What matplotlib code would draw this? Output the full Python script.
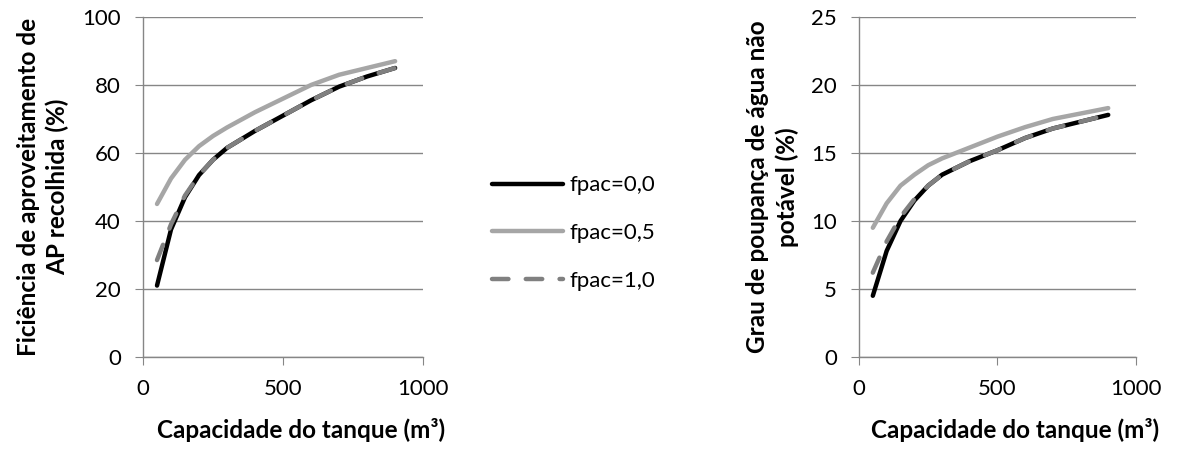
import matplotlib
matplotlib.use("Agg")
import matplotlib.pyplot as plt

plt.rcParams['font.family'] = ['Lato', 'DejaVu Sans']

# capacidade do tanque (m3)
capacidade = [50, 100, 150, 200, 250, 300, 400, 500, 600, 700, 800, 900]

# eficiência de aproveitamento (%)
ef_f00 = [21, 37.5, 47, 53.5, 58, 61.5, 66.5, 71, 75.5, 79.5, 82.5, 85]
ef_f05 = [45, 52.5, 58, 62, 65, 67.5, 72, 76, 80, 83, 85, 87]
ef_f10 = [28.5, 39, 47.5, 53.5, 58, 61.5, 66.5, 71, 75.5, 79.5, 82.5, 85]

# grau de poupança (%)
gp_f00 = [4.5, 7.8, 10.0, 11.5, 12.6, 13.4, 14.4, 15.2, 16.1, 16.8, 17.3, 17.8]
gp_f05 = [9.5, 11.3, 12.6, 13.4, 14.1, 14.6, 15.4, 16.2, 16.9, 17.5, 17.9, 18.3]
gp_f10 = [6.2, 8.5, 10.3, 11.6, 12.6, 13.4, 14.4, 15.2, 16.1, 16.8, 17.3, 17.8]

legendas = ['fpac=0,0', 'fpac=0,5', 'fpac=1,0']
grid_col = '#868686'

fig = plt.figure(figsize=(11.77, 4.5), dpi=100)
ax1 = fig.add_axes([0.1215, 0.2067, 0.238, 0.7556])
ax2 = fig.add_axes([0.7298, 0.2067, 0.2353, 0.7556])


def desenha(ax, ys, ymax, ystep, ylabel):
    l0, = ax.plot(capacidade, ys[0], color='black', lw=3.2, solid_capstyle='round',
                  solid_joinstyle='round', zorder=3)
    l1, = ax.plot(capacidade, ys[1], color='#A6A6A6', lw=3.2, solid_capstyle='round',
                  solid_joinstyle='round', zorder=3)
    l2, = ax.plot(capacidade, ys[2], color='#808080', lw=3.2, dashes=(3.7, 3.9),
                  dash_capstyle='round', zorder=4)
    ax.set_xlim(0, 1000)
    ax.set_ylim(0, ymax)
    ax.set_xticks([0, 500, 1000])
    ax.set_yticks(range(0, ymax + 1, ystep))
    ax.grid(axis='y', color=grid_col, lw=1)
    ax.set_axisbelow(True)
    for s in ['top', 'right']:
        ax.spines[s].set_visible(False)
    for s in ['left', 'bottom']:
        ax.spines[s].set_color(grid_col)
        ax.spines[s].set_linewidth(1)
    ax.tick_params(axis='both', direction='out', length=6, color=grid_col,
                   labelsize=16, pad=10)
    ax.set_xlabel('Capacidade do tanque (m³)', fontsize=17.5, fontweight='bold')
    ax.xaxis.set_label_coords(0.564, -0.18)
    ax.set_ylabel(ylabel, fontsize=17.5, fontweight='bold', labelpad=9, linespacing=1.3)
    return [l0, l1, l2]


linhas = desenha(ax1, [ef_f00, ef_f05, ef_f10], 100, 20,
                 'Ficiência de aproveitamento de\nAP recolhida (%)')
desenha(ax2, [gp_f00, gp_f05, gp_f10], 25, 5,
        'Grau de poupança de água não\npotável (%)')

fig.legend(linhas, legendas, loc='center left', bbox_to_anchor=(0.418, 0.482),
           frameon=False, fontsize=16, handlelength=3.2, handletextpad=0.3,
           labelspacing=1.25, borderpad=0, borderaxespad=0)

fig.savefig('out.png', dpi=100)
